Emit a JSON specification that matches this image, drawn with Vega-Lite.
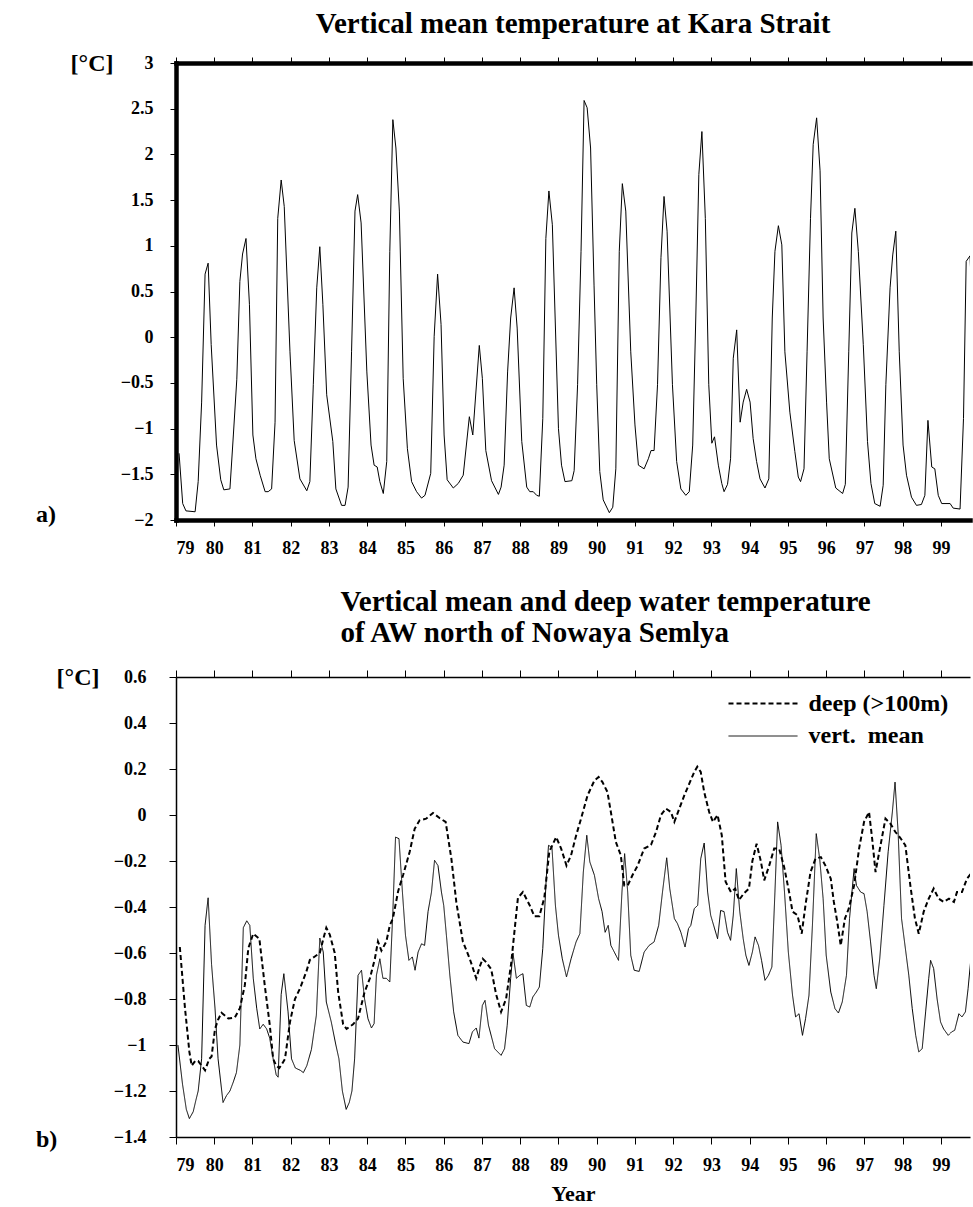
{
  "$schema": "https://vega.github.io/schema/vega-lite/v6.json",
  "background": "white",
  "padding": {"left": 35, "top": 10, "right": 0, "bottom": 0},
  "config": {
    "view": {"stroke": null},
    "font": "Liberation Serif",
    "axis": {"labelFont": "Liberation Serif", "labelFontWeight": "bold", "labelColor": "black", "titleFont": "Liberation Serif", "titleFontWeight": "bold", "titleColor": "black", "domainColor": "black", "tickColor": "black", "grid": false, "labelFontSize": 18},
    "title": {"font": "Liberation Serif", "fontWeight": "bold", "color": "black", "fontSize": 29},
    "concat": {"spacing": 31}
  },
  "resolve": {"legend": {"strokeDash": "independent", "strokeWidth": "independent"}},
  "datasets": {
    "kara": [
      {"year":79.08,"temp":-1.27},{"year":79.175,"temp":-1.82},{"year":79.26,"temp":-1.9},{"year":79.5,"temp":-1.91},{"year":79.58,"temp":-1.58},{"year":79.67,"temp":-0.71},{"year":79.76,"temp":0.69},{"year":79.84,"temp":0.81},{"year":79.92,"temp":-0.08},
      {"year":80.06,"temp":-1.18},{"year":80.17,"temp":-1.56},{"year":80.25,"temp":-1.67},{"year":80.41,"temp":-1.66},{"year":80.5,"temp":-1.07},{"year":80.59,"temp":-0.46},{"year":80.67,"temp":0.61},{"year":80.74,"temp":0.91},{"year":80.83,"temp":1.08},{"year":80.92,"temp":0.36},
      {"year":81.01,"temp":-1.07},{"year":81.09,"temp":-1.33},{"year":81.2,"temp":-1.51},{"year":81.33,"temp":-1.69},{"year":81.41,"temp":-1.69},{"year":81.5,"temp":-1.66},{"year":81.59,"temp":-0.93},{"year":81.66,"temp":1.3},{"year":81.75,"temp":1.72},{"year":81.83,"temp":1.43},{"year":81.98,"temp":-0.16},
      {"year":82.09,"temp":-1.13},{"year":82.24,"temp":-1.55},{"year":82.42,"temp":-1.68},{"year":82.5,"temp":-1.58},{"year":82.59,"temp":-0.52},{"year":82.68,"temp":0.54},{"year":82.76,"temp":0.99},{"year":82.84,"temp":0.36},{"year":82.94,"temp":-0.63},
      {"year":83.1,"temp":-1.14},{"year":83.18,"temp":-1.66},{"year":83.33,"temp":-1.84},{"year":83.42,"temp":-1.84},{"year":83.5,"temp":-1.64},{"year":83.59,"temp":-0.16},{"year":83.68,"temp":1.38},{"year":83.75,"temp":1.56},{"year":83.84,"temp":1.25},{"year":83.99,"temp":-0.38},
      {"year":84.1,"temp":-1.18},{"year":84.18,"temp":-1.4},{"year":84.26,"temp":-1.42},{"year":84.33,"temp":-1.58},{"year":84.42,"temp":-1.71},{"year":84.51,"temp":-1.36},{"year":84.59,"temp":0.94},{"year":84.67,"temp":2.38},{"year":84.75,"temp":2.07},{"year":84.84,"temp":1.38},{"year":84.94,"temp":-0.45},
      {"year":85.05,"temp":-1.22},{"year":85.16,"temp":-1.58},{"year":85.29,"temp":-1.69},{"year":85.42,"temp":-1.76},{"year":85.51,"temp":-1.73},{"year":85.66,"temp":-1.49},{"year":85.75,"temp":0.01},{"year":85.84,"temp":0.69},{"year":85.93,"temp":0.14},
      {"year":86.01,"temp":-1.07},{"year":86.09,"temp":-1.56},{"year":86.25,"temp":-1.65},{"year":86.38,"temp":-1.6},{"year":86.51,"temp":-1.51},{"year":86.67,"temp":-0.87},{"year":86.76,"temp":-1.07},{"year":86.93,"temp":-0.09},
      {"year":87.01,"temp":-0.45},{"year":87.1,"temp":-1.24},{"year":87.25,"temp":-1.57},{"year":87.43,"temp":-1.72},{"year":87.5,"temp":-1.64},{"year":87.58,"temp":-1.4},{"year":87.67,"temp":-0.38},{"year":87.75,"temp":0.21},{"year":87.84,"temp":0.54},{"year":87.92,"temp":0.1},
      {"year":88.04,"temp":-1.14},{"year":88.17,"temp":-1.64},{"year":88.25,"temp":-1.69},{"year":88.34,"temp":-1.69},{"year":88.43,"temp":-1.73},{"year":88.5,"temp":-1.74},{"year":88.59,"temp":-0.89},{"year":88.67,"temp":1.08},{"year":88.75,"temp":1.6},{"year":88.84,"temp":1.23},
      {"year":89.0,"temp":-1.0},{"year":89.08,"temp":-1.4},{"year":89.17,"temp":-1.58},{"year":89.35,"temp":-1.57},{"year":89.41,"temp":-1.46},{"year":89.5,"temp":-0.52},{"year":89.59,"temp":0.94},{"year":89.67,"temp":2.59},{"year":89.75,"temp":2.51},{"year":89.84,"temp":2.07},{"year":89.93,"temp":0.57},
      {"year":90.0,"temp":-0.52},{"year":90.08,"temp":-1.47},{"year":90.17,"temp":-1.78},{"year":90.33,"temp":-1.92},{"year":90.42,"temp":-1.86},{"year":90.5,"temp":-1.44},{"year":90.59,"temp":0.94},{"year":90.67,"temp":1.68},{"year":90.76,"temp":1.38},{"year":90.89,"temp":-0.16},
      {"year":91.0,"temp":-0.96},{"year":91.09,"temp":-1.4},{"year":91.24,"temp":-1.44},{"year":91.35,"temp":-1.33},{"year":91.42,"temp":-1.24},{"year":91.5,"temp":-1.24},{"year":91.59,"temp":-0.52},{"year":91.68,"temp":0.87},{"year":91.76,"temp":1.54},{"year":91.84,"temp":1.16},{"year":91.98,"temp":-0.52},
      {"year":92.09,"temp":-1.36},{"year":92.2,"temp":-1.66},{"year":92.33,"temp":-1.73},{"year":92.42,"temp":-1.69},{"year":92.51,"temp":-1.18},{"year":92.59,"temp":0.21},{"year":92.67,"temp":1.78},{"year":92.75,"temp":2.25},{"year":92.84,"temp":1.3},{"year":92.93,"temp":-0.52},
      {"year":93.01,"temp":-1.16},{"year":93.08,"temp":-1.09},{"year":93.18,"temp":-1.4},{"year":93.27,"temp":-1.6},{"year":93.33,"temp":-1.69},{"year":93.42,"temp":-1.61},{"year":93.5,"temp":-1.33},{"year":93.57,"temp":-0.23},{"year":93.66,"temp":0.08},{"year":93.75,"temp":-0.93},{"year":93.83,"temp":-0.71},{"year":93.92,"temp":-0.57},
      {"year":94.01,"temp":-0.71},{"year":94.09,"temp":-1.11},{"year":94.18,"temp":-1.36},{"year":94.27,"temp":-1.55},{"year":94.4,"temp":-1.65},{"year":94.5,"temp":-1.55},{"year":94.59,"temp":0.21},{"year":94.66,"temp":0.94},{"year":94.75,"temp":1.22},{"year":94.84,"temp":1.01},{"year":94.92,"temp":-0.16},
      {"year":95.05,"temp":-0.82},{"year":95.18,"temp":-1.25},{"year":95.27,"temp":-1.53},{"year":95.33,"temp":-1.58},{"year":95.42,"temp":-1.44},{"year":95.5,"temp":-0.16},{"year":95.59,"temp":1.3},{"year":95.66,"temp":2.11},{"year":95.75,"temp":2.4},{"year":95.84,"temp":1.82},{"year":95.92,"temp":0.21},
      {"year":96.01,"temp":-0.71},{"year":96.08,"temp":-1.33},{"year":96.25,"temp":-1.65},{"year":96.43,"temp":-1.71},{"year":96.5,"temp":-1.61},{"year":96.59,"temp":-0.16},{"year":96.67,"temp":1.14},{"year":96.75,"temp":1.41},{"year":96.84,"temp":0.94},{"year":96.97,"temp":-0.08},
      {"year":97.08,"temp":-1.14},{"year":97.17,"temp":-1.6},{"year":97.27,"temp":-1.82},{"year":97.41,"temp":-1.85},{"year":97.49,"temp":-1.62},{"year":97.56,"temp":-0.52},{"year":97.67,"temp":0.54},{"year":97.74,"temp":0.9},{"year":97.82,"temp":1.16},{"year":97.91,"temp":-0.16},
      {"year":98.01,"temp":-1.18},{"year":98.1,"temp":-1.51},{"year":98.23,"temp":-1.75},{"year":98.36,"temp":-1.84},{"year":98.49,"temp":-1.83},{"year":98.58,"temp":-1.73},{"year":98.66,"temp":-0.91},{"year":98.76,"temp":-1.42},{"year":98.84,"temp":-1.44},{"year":98.93,"temp":-1.73},
      {"year":99.02,"temp":-1.82},{"year":99.24,"temp":-1.82},{"year":99.32,"temp":-1.87},{"year":99.5,"temp":-1.88},{"year":99.59,"temp":-0.89},{"year":99.66,"temp":0.83},{"year":99.76,"temp":0.89},{"year":99.84,"temp":0.13}
    ],
    "nz": [
      {"year":79.05,"temp":-1.0,"series":"vert. \u00a0mean"},{"year":79.17,"temp":-1.17,"series":"vert. \u00a0mean"},{"year":79.27,"temp":-1.28,"series":"vert. \u00a0mean"},{"year":79.35,"temp":-1.32,"series":"vert. \u00a0mean"},{"year":79.45,"temp":-1.29,"series":"vert. \u00a0mean"},{"year":79.52,"temp":-1.24,"series":"vert. \u00a0mean"},{"year":79.58,"temp":-1.2,"series":"vert. \u00a0mean"},{"year":79.67,"temp":-1.06,"series":"vert. \u00a0mean"},{"year":79.76,"temp":-0.48,"series":"vert. \u00a0mean"},{"year":79.84,"temp":-0.36,"series":"vert. \u00a0mean"},{"year":79.93,"temp":-0.65,"series":"vert. \u00a0mean"},
      {"year":80.02,"temp":-0.84,"series":"vert. \u00a0mean"},{"year":80.1,"temp":-1.06,"series":"vert. \u00a0mean"},{"year":80.23,"temp":-1.25,"series":"vert. \u00a0mean"},{"year":80.32,"temp":-1.22,"series":"vert. \u00a0mean"},{"year":80.41,"temp":-1.2,"series":"vert. \u00a0mean"},{"year":80.5,"temp":-1.16,"series":"vert. \u00a0mean"},{"year":80.58,"temp":-1.12,"series":"vert. \u00a0mean"},{"year":80.67,"temp":-1.0,"series":"vert. \u00a0mean"},{"year":80.76,"temp":-0.49,"series":"vert. \u00a0mean"},{"year":80.85,"temp":-0.46,"series":"vert. \u00a0mean"},{"year":80.93,"temp":-0.48,"series":"vert. \u00a0mean"},
      {"year":81.02,"temp":-0.71,"series":"vert. \u00a0mean"},{"year":81.11,"temp":-0.84,"series":"vert. \u00a0mean"},{"year":81.19,"temp":-0.93,"series":"vert. \u00a0mean"},{"year":81.28,"temp":-0.91,"series":"vert. \u00a0mean"},{"year":81.37,"temp":-0.93,"series":"vert. \u00a0mean"},{"year":81.45,"temp":-0.97,"series":"vert. \u00a0mean"},{"year":81.54,"temp":-1.06,"series":"vert. \u00a0mean"},{"year":81.62,"temp":-1.13,"series":"vert. \u00a0mean"},{"year":81.67,"temp":-1.14,"series":"vert. \u00a0mean"},{"year":81.75,"temp":-0.78,"series":"vert. \u00a0mean"},{"year":81.82,"temp":-0.69,"series":"vert. \u00a0mean"},{"year":81.93,"temp":-0.856,"series":"vert. \u00a0mean"},
      {"year":82.02,"temp":-1.06,"series":"vert. \u00a0mean"},{"year":82.12,"temp":-1.1,"series":"vert. \u00a0mean"},{"year":82.25,"temp":-1.11,"series":"vert. \u00a0mean"},{"year":82.33,"temp":-1.12,"series":"vert. \u00a0mean"},{"year":82.42,"temp":-1.09,"series":"vert. \u00a0mean"},{"year":82.54,"temp":-1.02,"series":"vert. \u00a0mean"},{"year":82.67,"temp":-0.87,"series":"vert. \u00a0mean"},{"year":82.76,"temp":-0.535,"series":"vert. \u00a0mean"},{"year":82.85,"temp":-0.596,"series":"vert. \u00a0mean"},{"year":82.93,"temp":-0.813,"series":"vert. \u00a0mean"},
      {"year":83.06,"temp":-0.9,"series":"vert. \u00a0mean"},{"year":83.18,"temp":-1.0,"series":"vert. \u00a0mean"},{"year":83.26,"temp":-1.06,"series":"vert. \u00a0mean"},{"year":83.35,"temp":-1.2,"series":"vert. \u00a0mean"},{"year":83.45,"temp":-1.28,"series":"vert. \u00a0mean"},{"year":83.53,"temp":-1.25,"series":"vert. \u00a0mean"},{"year":83.6,"temp":-1.2,"series":"vert. \u00a0mean"},{"year":83.67,"temp":-1.06,"series":"vert. \u00a0mean"},{"year":83.76,"temp":-0.697,"series":"vert. \u00a0mean"},{"year":83.85,"temp":-0.675,"series":"vert. \u00a0mean"},{"year":83.93,"temp":-0.8,"series":"vert. \u00a0mean"},
      {"year":84.02,"temp":-0.886,"series":"vert. \u00a0mean"},{"year":84.11,"temp":-0.926,"series":"vert. \u00a0mean"},{"year":84.18,"temp":-0.907,"series":"vert. \u00a0mean"},{"year":84.24,"temp":-0.697,"series":"vert. \u00a0mean"},{"year":84.33,"temp":-0.625,"series":"vert. \u00a0mean"},{"year":84.41,"temp":-0.71,"series":"vert. \u00a0mean"},{"year":84.5,"temp":-0.71,"series":"vert. \u00a0mean"},{"year":84.59,"temp":-0.726,"series":"vert. \u00a0mean"},{"year":84.67,"temp":-0.42,"series":"vert. \u00a0mean"},{"year":84.74,"temp":-0.096,"series":"vert. \u00a0mean"},{"year":84.83,"temp":-0.103,"series":"vert. \u00a0mean"},{"year":84.92,"temp":-0.335,"series":"vert. \u00a0mean"},
      {"year":85.0,"temp":-0.523,"series":"vert. \u00a0mean"},{"year":85.09,"temp":-0.632,"series":"vert. \u00a0mean"},{"year":85.18,"temp":-0.617,"series":"vert. \u00a0mean"},{"year":85.25,"temp":-0.675,"series":"vert. \u00a0mean"},{"year":85.33,"temp":-0.596,"series":"vert. \u00a0mean"},{"year":85.42,"temp":-0.56,"series":"vert. \u00a0mean"},{"year":85.5,"temp":-0.567,"series":"vert. \u00a0mean"},{"year":85.59,"temp":-0.42,"series":"vert. \u00a0mean"},{"year":85.68,"temp":-0.335,"series":"vert. \u00a0mean"},{"year":85.76,"temp":-0.197,"series":"vert. \u00a0mean"},{"year":85.85,"temp":-0.22,"series":"vert. \u00a0mean"},{"year":85.94,"temp":-0.335,"series":"vert. \u00a0mean"},
      {"year":86.0,"temp":-0.393,"series":"vert. \u00a0mean"},{"year":86.07,"temp":-0.523,"series":"vert. \u00a0mean"},{"year":86.16,"temp":-0.697,"series":"vert. \u00a0mean"},{"year":86.26,"temp":-0.856,"series":"vert. \u00a0mean"},{"year":86.37,"temp":-0.958,"series":"vert. \u00a0mean"},{"year":86.5,"temp":-0.987,"series":"vert. \u00a0mean"},{"year":86.66,"temp":-0.994,"series":"vert. \u00a0mean"},{"year":86.75,"temp":-0.943,"series":"vert. \u00a0mean"},{"year":86.85,"temp":-0.926,"series":"vert. \u00a0mean"},{"year":86.92,"temp":-0.97,"series":"vert. \u00a0mean"},
      {"year":87.01,"temp":-0.828,"series":"vert. \u00a0mean"},{"year":87.08,"temp":-0.806,"series":"vert. \u00a0mean"},{"year":87.17,"temp":-0.914,"series":"vert. \u00a0mean"},{"year":87.33,"temp":-1.016,"series":"vert. \u00a0mean"},{"year":87.5,"temp":-1.045,"series":"vert. \u00a0mean"},{"year":87.59,"temp":-1.016,"series":"vert. \u00a0mean"},{"year":87.66,"temp":-0.914,"series":"vert. \u00a0mean"},{"year":87.75,"temp":-0.71,"series":"vert. \u00a0mean"},{"year":87.81,"temp":-0.6,"series":"vert. \u00a0mean"},{"year":87.9,"temp":-0.71,"series":"vert. \u00a0mean"},{"year":87.99,"temp":-0.697,"series":"vert. \u00a0mean"},
      {"year":88.07,"temp":-0.69,"series":"vert. \u00a0mean"},{"year":88.16,"temp":-0.828,"series":"vert. \u00a0mean"},{"year":88.25,"temp":-0.835,"series":"vert. \u00a0mean"},{"year":88.33,"temp":-0.791,"series":"vert. \u00a0mean"},{"year":88.42,"temp":-0.77,"series":"vert. \u00a0mean"},{"year":88.5,"temp":-0.748,"series":"vert. \u00a0mean"},{"year":88.59,"temp":-0.58,"series":"vert. \u00a0mean"},{"year":88.68,"temp":-0.277,"series":"vert. \u00a0mean"},{"year":88.74,"temp":-0.132,"series":"vert. \u00a0mean"},{"year":88.83,"temp":-0.14,"series":"vert. \u00a0mean"},{"year":88.92,"temp":-0.393,"series":"vert. \u00a0mean"},
      {"year":89.0,"temp":-0.523,"series":"vert. \u00a0mean"},{"year":89.1,"temp":-0.625,"series":"vert. \u00a0mean"},{"year":89.21,"temp":-0.704,"series":"vert. \u00a0mean"},{"year":89.33,"temp":-0.625,"series":"vert. \u00a0mean"},{"year":89.46,"temp":-0.552,"series":"vert. \u00a0mean"},{"year":89.56,"temp":-0.516,"series":"vert. \u00a0mean"},{"year":89.65,"temp":-0.248,"series":"vert. \u00a0mean"},{"year":89.74,"temp":-0.088,"series":"vert. \u00a0mean"},{"year":89.82,"temp":-0.204,"series":"vert. \u00a0mean"},{"year":89.94,"temp":-0.262,"series":"vert. \u00a0mean"},
      {"year":90.05,"temp":-0.364,"series":"vert. \u00a0mean"},{"year":90.14,"temp":-0.42,"series":"vert. \u00a0mean"},{"year":90.22,"temp":-0.51,"series":"vert. \u00a0mean"},{"year":90.3,"temp":-0.48,"series":"vert. \u00a0mean"},{"year":90.37,"temp":-0.567,"series":"vert. \u00a0mean"},{"year":90.46,"temp":-0.596,"series":"vert. \u00a0mean"},{"year":90.57,"temp":-0.632,"series":"vert. \u00a0mean"},{"year":90.66,"temp":-0.335,"series":"vert. \u00a0mean"},{"year":90.73,"temp":-0.168,"series":"vert. \u00a0mean"},{"year":90.81,"temp":-0.335,"series":"vert. \u00a0mean"},{"year":90.89,"temp":-0.61,"series":"vert. \u00a0mean"},{"year":90.98,"temp":-0.675,"series":"vert. \u00a0mean"},
      {"year":91.11,"temp":-0.68,"series":"vert. \u00a0mean"},{"year":91.24,"temp":-0.596,"series":"vert. \u00a0mean"},{"year":91.37,"temp":-0.567,"series":"vert. \u00a0mean"},{"year":91.5,"temp":-0.552,"series":"vert. \u00a0mean"},{"year":91.62,"temp":-0.48,"series":"vert. \u00a0mean"},{"year":91.72,"temp":-0.335,"series":"vert. \u00a0mean"},{"year":91.83,"temp":-0.186,"series":"vert. \u00a0mean"},{"year":91.91,"temp":-0.32,"series":"vert. \u00a0mean"},
      {"year":92.03,"temp":-0.45,"series":"vert. \u00a0mean"},{"year":92.11,"temp":-0.472,"series":"vert. \u00a0mean"},{"year":92.2,"temp":-0.51,"series":"vert. \u00a0mean"},{"year":92.31,"temp":-0.574,"series":"vert. \u00a0mean"},{"year":92.4,"temp":-0.494,"series":"vert. \u00a0mean"},{"year":92.46,"temp":-0.48,"series":"vert. \u00a0mean"},{"year":92.55,"temp":-0.407,"series":"vert. \u00a0mean"},{"year":92.64,"temp":-0.393,"series":"vert. \u00a0mean"},{"year":92.72,"temp":-0.19,"series":"vert. \u00a0mean"},{"year":92.81,"temp":-0.122,"series":"vert. \u00a0mean"},{"year":92.9,"temp":-0.335,"series":"vert. \u00a0mean"},{"year":92.98,"temp":-0.436,"series":"vert. \u00a0mean"},
      {"year":93.07,"temp":-0.487,"series":"vert. \u00a0mean"},{"year":93.16,"temp":-0.538,"series":"vert. \u00a0mean"},{"year":93.24,"temp":-0.415,"series":"vert. \u00a0mean"},{"year":93.33,"temp":-0.42,"series":"vert. \u00a0mean"},{"year":93.42,"temp":-0.51,"series":"vert. \u00a0mean"},{"year":93.5,"temp":-0.545,"series":"vert. \u00a0mean"},{"year":93.57,"temp":-0.436,"series":"vert. \u00a0mean"},{"year":93.65,"temp":-0.233,"series":"vert. \u00a0mean"},{"year":93.74,"temp":-0.42,"series":"vert. \u00a0mean"},{"year":93.83,"temp":-0.538,"series":"vert. \u00a0mean"},{"year":93.9,"temp":-0.61,"series":"vert. \u00a0mean"},{"year":93.98,"temp":-0.654,"series":"vert. \u00a0mean"},
      {"year":94.07,"temp":-0.596,"series":"vert. \u00a0mean"},{"year":94.14,"temp":-0.53,"series":"vert. \u00a0mean"},{"year":94.23,"temp":-0.567,"series":"vert. \u00a0mean"},{"year":94.31,"temp":-0.632,"series":"vert. \u00a0mean"},{"year":94.4,"temp":-0.719,"series":"vert. \u00a0mean"},{"year":94.49,"temp":-0.697,"series":"vert. \u00a0mean"},{"year":94.58,"temp":-0.661,"series":"vert. \u00a0mean"},{"year":94.66,"temp":-0.335,"series":"vert. \u00a0mean"},{"year":94.73,"temp":-0.03,"series":"vert. \u00a0mean"},{"year":94.82,"temp":-0.132,"series":"vert. \u00a0mean"},{"year":94.91,"temp":-0.335,"series":"vert. \u00a0mean"},
      {"year":95.01,"temp":-0.596,"series":"vert. \u00a0mean"},{"year":95.12,"temp":-0.784,"series":"vert. \u00a0mean"},{"year":95.2,"temp":-0.878,"series":"vert. \u00a0mean"},{"year":95.29,"temp":-0.864,"series":"vert. \u00a0mean"},{"year":95.38,"temp":-0.958,"series":"vert. \u00a0mean"},{"year":95.46,"temp":-0.886,"series":"vert. \u00a0mean"},{"year":95.55,"temp":-0.784,"series":"vert. \u00a0mean"},{"year":95.64,"temp":-0.48,"series":"vert. \u00a0mean"},{"year":95.74,"temp":-0.081,"series":"vert. \u00a0mean"},{"year":95.83,"temp":-0.19,"series":"vert. \u00a0mean"},{"year":95.92,"temp":-0.364,"series":"vert. \u00a0mean"},
      {"year":96.0,"temp":-0.61,"series":"vert. \u00a0mean"},{"year":96.12,"temp":-0.77,"series":"vert. \u00a0mean"},{"year":96.23,"temp":-0.842,"series":"vert. \u00a0mean"},{"year":96.32,"temp":-0.861,"series":"vert. \u00a0mean"},{"year":96.42,"temp":-0.813,"series":"vert. \u00a0mean"},{"year":96.53,"temp":-0.697,"series":"vert. \u00a0mean"},{"year":96.61,"temp":-0.45,"series":"vert. \u00a0mean"},{"year":96.73,"temp":-0.233,"series":"vert. \u00a0mean"},{"year":96.79,"temp":-0.306,"series":"vert. \u00a0mean"},{"year":96.9,"temp":-0.335,"series":"vert. \u00a0mean"},{"year":96.99,"temp":-0.342,"series":"vert. \u00a0mean"},
      {"year":97.07,"temp":-0.42,"series":"vert. \u00a0mean"},{"year":97.16,"temp":-0.552,"series":"vert. \u00a0mean"},{"year":97.25,"temp":-0.697,"series":"vert. \u00a0mean"},{"year":97.31,"temp":-0.755,"series":"vert. \u00a0mean"},{"year":97.4,"temp":-0.625,"series":"vert. \u00a0mean"},{"year":97.51,"temp":-0.393,"series":"vert. \u00a0mean"},{"year":97.62,"temp":-0.16,"series":"vert. \u00a0mean"},{"year":97.73,"temp":0.013,"series":"vert. \u00a0mean"},{"year":97.8,"temp":0.143,"series":"vert. \u00a0mean"},{"year":97.88,"temp":-0.074,"series":"vert. \u00a0mean"},{"year":97.97,"temp":-0.45,"series":"vert. \u00a0mean"},
      {"year":98.07,"temp":-0.58,"series":"vert. \u00a0mean"},{"year":98.16,"temp":-0.697,"series":"vert. \u00a0mean"},{"year":98.25,"temp":-0.842,"series":"vert. \u00a0mean"},{"year":98.34,"temp":-0.958,"series":"vert. \u00a0mean"},{"year":98.42,"temp":-1.03,"series":"vert. \u00a0mean"},{"year":98.51,"temp":-1.016,"series":"vert. \u00a0mean"},{"year":98.6,"temp":-0.856,"series":"vert. \u00a0mean"},{"year":98.68,"temp":-0.712,"series":"vert. \u00a0mean"},{"year":98.73,"temp":-0.632,"series":"vert. \u00a0mean"},{"year":98.81,"temp":-0.668,"series":"vert. \u00a0mean"},{"year":98.9,"temp":-0.8,"series":"vert. \u00a0mean"},{"year":98.99,"temp":-0.9,"series":"vert. \u00a0mean"},
      {"year":99.07,"temp":-0.93,"series":"vert. \u00a0mean"},{"year":99.19,"temp":-0.958,"series":"vert. \u00a0mean"},{"year":99.28,"temp":-0.943,"series":"vert. \u00a0mean"},{"year":99.36,"temp":-0.936,"series":"vert. \u00a0mean"},{"year":99.47,"temp":-0.864,"series":"vert. \u00a0mean"},{"year":99.55,"temp":-0.878,"series":"vert. \u00a0mean"},{"year":99.64,"temp":-0.856,"series":"vert. \u00a0mean"},{"year":99.71,"temp":-0.755,"series":"vert. \u00a0mean"},{"year":99.8,"temp":-0.596,"series":"vert. \u00a0mean"},{"year":99.89,"temp":-0.54,"series":"vert. \u00a0mean"},

      {"year":79.1,"temp":-0.574,"series":"deep (>100m)"},{"year":79.235,"temp":-0.84,"series":"deep (>100m)"},{"year":79.35,"temp":-1.03,"series":"deep (>100m)"},{"year":79.41,"temp":-1.09,"series":"deep (>100m)"},{"year":79.5,"temp":-1.07,"series":"deep (>100m)"},{"year":79.58,"temp":-1.07,"series":"deep (>100m)"},{"year":79.67,"temp":-1.09,"series":"deep (>100m)"},{"year":79.76,"temp":-1.11,"series":"deep (>100m)"},{"year":79.87,"temp":-1.06,"series":"deep (>100m)"},{"year":79.93,"temp":-1.05,"series":"deep (>100m)"},
      {"year":80.02,"temp":-0.93,"series":"deep (>100m)"},{"year":80.1,"temp":-0.89,"series":"deep (>100m)"},{"year":80.19,"temp":-0.86,"series":"deep (>100m)"},{"year":80.37,"temp":-0.885,"series":"deep (>100m)"},{"year":80.54,"temp":-0.88,"series":"deep (>100m)"},{"year":80.67,"temp":-0.84,"series":"deep (>100m)"},{"year":80.8,"temp":-0.74,"series":"deep (>100m)"},{"year":80.89,"temp":-0.58,"series":"deep (>100m)"},
      {"year":81.02,"temp":-0.516,"series":"deep (>100m)"},{"year":81.18,"temp":-0.538,"series":"deep (>100m)"},{"year":81.32,"temp":-0.74,"series":"deep (>100m)"},{"year":81.45,"temp":-0.91,"series":"deep (>100m)"},{"year":81.54,"temp":-1.06,"series":"deep (>100m)"},{"year":81.62,"temp":-1.09,"series":"deep (>100m)"},{"year":81.7,"temp":-1.1,"series":"deep (>100m)"},{"year":81.78,"temp":-1.08,"series":"deep (>100m)"},{"year":81.85,"temp":-1.06,"series":"deep (>100m)"},{"year":81.98,"temp":-0.9,"series":"deep (>100m)"},
      {"year":82.11,"temp":-0.8,"series":"deep (>100m)"},{"year":82.24,"temp":-0.755,"series":"deep (>100m)"},{"year":82.41,"temp":-0.68,"series":"deep (>100m)"},{"year":82.5,"temp":-0.63,"series":"deep (>100m)"},{"year":82.63,"temp":-0.615,"series":"deep (>100m)"},{"year":82.76,"temp":-0.6,"series":"deep (>100m)"},{"year":82.85,"temp":-0.54,"series":"deep (>100m)"},{"year":82.93,"temp":-0.49,"series":"deep (>100m)"},
      {"year":83.02,"temp":-0.52,"series":"deep (>100m)"},{"year":83.15,"temp":-0.6,"series":"deep (>100m)"},{"year":83.24,"temp":-0.77,"series":"deep (>100m)"},{"year":83.37,"temp":-0.91,"series":"deep (>100m)"},{"year":83.46,"temp":-0.93,"series":"deep (>100m)"},{"year":83.63,"temp":-0.91,"series":"deep (>100m)"},{"year":83.76,"temp":-0.885,"series":"deep (>100m)"},{"year":83.93,"temp":-0.77,"series":"deep (>100m)"},
      {"year":84.07,"temp":-0.71,"series":"deep (>100m)"},{"year":84.2,"temp":-0.625,"series":"deep (>100m)"},{"year":84.28,"temp":-0.55,"series":"deep (>100m)"},{"year":84.37,"temp":-0.59,"series":"deep (>100m)"},{"year":84.5,"temp":-0.55,"series":"deep (>100m)"},{"year":84.59,"temp":-0.48,"series":"deep (>100m)"},{"year":84.67,"temp":-0.45,"series":"deep (>100m)"},{"year":84.81,"temp":-0.33,"series":"deep (>100m)"},{"year":84.94,"temp":-0.26,"series":"deep (>100m)"},
      {"year":85.11,"temp":-0.16,"series":"deep (>100m)"},{"year":85.24,"temp":-0.06,"series":"deep (>100m)"},{"year":85.37,"temp":-0.023,"series":"deep (>100m)"},{"year":85.54,"temp":-0.016,"series":"deep (>100m)"},{"year":85.72,"temp":0.009,"series":"deep (>100m)"},{"year":85.89,"temp":-0.013,"series":"deep (>100m)"},
      {"year":86.05,"temp":-0.03,"series":"deep (>100m)"},{"year":86.2,"temp":-0.19,"series":"deep (>100m)"},{"year":86.33,"temp":-0.38,"series":"deep (>100m)"},{"year":86.5,"temp":-0.55,"series":"deep (>100m)"},{"year":86.68,"temp":-0.625,"series":"deep (>100m)"},{"year":86.85,"temp":-0.71,"series":"deep (>100m)"},{"year":86.94,"temp":-0.66,"series":"deep (>100m)"},
      {"year":87.02,"temp":-0.625,"series":"deep (>100m)"},{"year":87.11,"temp":-0.64,"series":"deep (>100m)"},{"year":87.24,"temp":-0.67,"series":"deep (>100m)"},{"year":87.37,"temp":-0.78,"series":"deep (>100m)"},{"year":87.5,"temp":-0.856,"series":"deep (>100m)"},{"year":87.63,"temp":-0.8,"series":"deep (>100m)"},{"year":87.76,"temp":-0.65,"series":"deep (>100m)"},{"year":87.94,"temp":-0.36,"series":"deep (>100m)"},
      {"year":88.07,"temp":-0.335,"series":"deep (>100m)"},{"year":88.24,"temp":-0.39,"series":"deep (>100m)"},{"year":88.37,"temp":-0.44,"series":"deep (>100m)"},{"year":88.5,"temp":-0.44,"series":"deep (>100m)"},{"year":88.63,"temp":-0.36,"series":"deep (>100m)"},{"year":88.76,"temp":-0.16,"series":"deep (>100m)"},{"year":88.94,"temp":-0.096,"series":"deep (>100m)"},
      {"year":89.07,"temp":-0.146,"series":"deep (>100m)"},{"year":89.21,"temp":-0.22,"series":"deep (>100m)"},{"year":89.33,"temp":-0.175,"series":"deep (>100m)"},{"year":89.46,"temp":-0.09,"series":"deep (>100m)"},{"year":89.59,"temp":-0.016,"series":"deep (>100m)"},{"year":89.76,"temp":0.085,"series":"deep (>100m)"},{"year":89.94,"temp":0.15,"series":"deep (>100m)"},
      {"year":90.05,"temp":0.165,"series":"deep (>100m)"},{"year":90.15,"temp":0.143,"series":"deep (>100m)"},{"year":90.28,"temp":0.1,"series":"deep (>100m)"},{"year":90.37,"temp":0.013,"series":"deep (>100m)"},{"year":90.5,"temp":-0.117,"series":"deep (>100m)"},{"year":90.63,"temp":-0.175,"series":"deep (>100m)"},{"year":90.72,"temp":-0.306,"series":"deep (>100m)"},{"year":90.81,"temp":-0.306,"series":"deep (>100m)"},{"year":90.94,"temp":-0.26,"series":"deep (>100m)"},
      {"year":91.07,"temp":-0.22,"series":"deep (>100m)"},{"year":91.24,"temp":-0.146,"series":"deep (>100m)"},{"year":91.42,"temp":-0.13,"series":"deep (>100m)"},{"year":91.55,"temp":-0.074,"series":"deep (>100m)"},{"year":91.68,"temp":0.0,"series":"deep (>100m)"},{"year":91.81,"temp":0.028,"series":"deep (>100m)"},{"year":91.94,"temp":0.013,"series":"deep (>100m)"},
      {"year":92.03,"temp":-0.03,"series":"deep (>100m)"},{"year":92.16,"temp":0.028,"series":"deep (>100m)"},{"year":92.29,"temp":0.085,"series":"deep (>100m)"},{"year":92.42,"temp":0.136,"series":"deep (>100m)"},{"year":92.55,"temp":0.187,"series":"deep (>100m)"},{"year":92.63,"temp":0.21,"series":"deep (>100m)"},{"year":92.72,"temp":0.187,"series":"deep (>100m)"},{"year":92.81,"temp":0.1,"series":"deep (>100m)"},{"year":92.94,"temp":0.013,"series":"deep (>100m)"},
      {"year":93.04,"temp":-0.03,"series":"deep (>100m)"},{"year":93.16,"temp":0.0,"series":"deep (>100m)"},{"year":93.27,"temp":-0.088,"series":"deep (>100m)"},{"year":93.37,"temp":-0.29,"series":"deep (>100m)"},{"year":93.51,"temp":-0.335,"series":"deep (>100m)"},{"year":93.62,"temp":-0.32,"series":"deep (>100m)"},{"year":93.72,"temp":-0.37,"series":"deep (>100m)"},{"year":93.85,"temp":-0.34,"series":"deep (>100m)"},{"year":93.98,"temp":-0.32,"series":"deep (>100m)"},
      {"year":94.07,"temp":-0.2,"series":"deep (>100m)"},{"year":94.18,"temp":-0.125,"series":"deep (>100m)"},{"year":94.29,"temp":-0.2,"series":"deep (>100m)"},{"year":94.38,"temp":-0.284,"series":"deep (>100m)"},{"year":94.51,"temp":-0.22,"series":"deep (>100m)"},{"year":94.64,"temp":-0.146,"series":"deep (>100m)"},{"year":94.77,"temp":-0.146,"series":"deep (>100m)"},{"year":94.9,"temp":-0.226,"series":"deep (>100m)"},
      {"year":95.03,"temp":-0.335,"series":"deep (>100m)"},{"year":95.12,"temp":-0.42,"series":"deep (>100m)"},{"year":95.25,"temp":-0.436,"series":"deep (>100m)"},{"year":95.36,"temp":-0.516,"series":"deep (>100m)"},{"year":95.46,"temp":-0.39,"series":"deep (>100m)"},{"year":95.59,"temp":-0.248,"series":"deep (>100m)"},{"year":95.72,"temp":-0.19,"series":"deep (>100m)"},{"year":95.86,"temp":-0.183,"series":"deep (>100m)"},{"year":95.98,"temp":-0.22,"series":"deep (>100m)"},
      {"year":96.12,"temp":-0.277,"series":"deep (>100m)"},{"year":96.2,"temp":-0.378,"series":"deep (>100m)"},{"year":96.29,"temp":-0.465,"series":"deep (>100m)"},{"year":96.38,"temp":-0.567,"series":"deep (>100m)"},{"year":96.49,"temp":-0.45,"series":"deep (>100m)"},{"year":96.59,"temp":-0.407,"series":"deep (>100m)"},{"year":96.73,"temp":-0.306,"series":"deep (>100m)"},{"year":96.86,"temp":-0.146,"series":"deep (>100m)"},{"year":96.99,"temp":-0.03,"series":"deep (>100m)"},
      {"year":97.12,"temp":0.013,"series":"deep (>100m)"},{"year":97.2,"temp":-0.1,"series":"deep (>100m)"},{"year":97.29,"temp":-0.248,"series":"deep (>100m)"},{"year":97.42,"temp":-0.132,"series":"deep (>100m)"},{"year":97.55,"temp":-0.016,"series":"deep (>100m)"},{"year":97.68,"temp":-0.038,"series":"deep (>100m)"},{"year":97.81,"temp":-0.074,"series":"deep (>100m)"},{"year":97.94,"temp":-0.1,"series":"deep (>100m)"},
      {"year":98.07,"temp":-0.132,"series":"deep (>100m)"},{"year":98.2,"temp":-0.306,"series":"deep (>100m)"},{"year":98.32,"temp":-0.45,"series":"deep (>100m)"},{"year":98.42,"temp":-0.516,"series":"deep (>100m)"},{"year":98.55,"temp":-0.42,"series":"deep (>100m)"},{"year":98.68,"temp":-0.364,"series":"deep (>100m)"},{"year":98.81,"temp":-0.32,"series":"deep (>100m)"},{"year":98.94,"temp":-0.364,"series":"deep (>100m)"},
      {"year":99.07,"temp":-0.378,"series":"deep (>100m)"},{"year":99.21,"temp":-0.364,"series":"deep (>100m)"},{"year":99.34,"temp":-0.378,"series":"deep (>100m)"},{"year":99.42,"temp":-0.335,"series":"deep (>100m)"},{"year":99.55,"temp":-0.335,"series":"deep (>100m)"},{"year":99.68,"temp":-0.277,"series":"deep (>100m)"},{"year":99.89,"temp":-0.233,"series":"deep (>100m)"}
    ]
  },
  "vconcat": [
    {
      "width": 794,
      "height": 457,
      "title": {"text": "Vertical mean temperature at Kara Strait", "anchor": "middle", "frame": "group", "offset": 12},
      "data": {"name": "kara"},
      "layer": [
        {
          "mark": {"type": "line", "color": "black", "strokeWidth": 1, "clip": true},
          "encoding": {
            "x": {"field": "year", "type": "quantitative",
              "scale": {"domain": [79, 99.76], "nice": false, "zero": false},
              "axis": {"orient": "bottom", "values": [79,80,81,82,83,84,85,86,87,88,89,90,91,92,93,94,95,96,97,98,99], "format": "d", "tickSize": 6, "domainWidth": 4.5, "domainCap": "square", "labelPadding": 13,
                "title": "a)", "titleFontSize": 24, "titleAngle": 0, "titleAlign": "left", "titleBaseline": "middle", "titleX": -140.5, "titleY": -6}},
            "y": {"field": "temp", "type": "quantitative",
              "scale": {"domain": [-2, 3], "nice": false, "zero": false},
              "axis": {"values": [-2,-1.5,-1,-0.5,0,0.5,1,1.5,2,2.5,3], "format": "~g", "tickSize": 6, "domainWidth": 4.5, "domainCap": "square", "labelPadding": 17,
                "title": "[°C]", "titleFontSize": 24, "titleAngle": 0, "titleAlign": "right", "titleBaseline": "middle", "titleX": -63, "titleY": 0}}
          }
        },
        {
          "mark": {"type": "point", "opacity": 0},
          "encoding": {
            "x": {"field": "year", "type": "quantitative",
              "scale": {"domain": [79, 99.76], "nice": false, "zero": false},
              "axis": {"orient": "top", "values": [79,80,81,82,83,84,85,86,87,88,89,90,91,92,93,94,95,96,97,98,99], "labels": false, "tickSize": 6, "domainWidth": 4.5, "domainCap": "square", "title": null}}
          }
        }
      ],
      "resolve": {"axis": {"x": "independent"}}
    },
    {
      "width": 794,
      "height": 460,
      "title": {"text": ["Vertical mean and deep water temperature", "of AW north of Nowaya Semlya"], "anchor": "start", "frame": "group", "dx": 164.5, "lineHeight": 31, "offset": 17},
      "data": {"name": "nz"},
      "layer": [
        {
          "mark": {"type": "line", "color": "black", "clip": true},
          "encoding": {
            "x": {"field": "year", "type": "quantitative",
              "scale": {"domain": [79, 99.76], "nice": false, "zero": false},
              "axis": {"orient": "bottom", "values": [79,80,81,82,83,84,85,86,87,88,89,90,91,92,93,94,95,96,97,98,99], "format": "d", "tickSize": 7, "domainWidth": 1.5, "labelPadding": 12,
                "title": "Year", "titleFontSize": 22, "titlePadding": 9}},
            "y": {"field": "temp", "type": "quantitative",
              "scale": {"domain": [-1.4, 0.6], "nice": false, "zero": false},
              "axis": {"values": [-1.4,-1.2,-1,-0.8,-0.6,-0.4,-0.2,0,0.2,0.4,0.6], "format": "~g", "tickSize": 7, "domainWidth": 1.5, "labelPadding": 23,
                "title": "[°C]", "titleFontSize": 24, "titleAngle": 0, "titleAlign": "right", "titleBaseline": "middle", "titleX": -77, "titleY": 0}},
            "strokeDash": {"field": "series", "type": "nominal",
              "scale": {"domain": ["deep (>100m)", "vert. \u00a0mean"], "range": [[5, 3], [1, 0]]},
              "legend": {"title": null, "orient": "none", "legendX": 574.5, "legendY": 14, "symbolType": "M-3,0H3", "symbolSize": 529, "symbolStrokeColor": "black", "symbolStrokeWidth": 1.5,
                "labelFont": "Liberation Serif", "labelFontWeight": "bold", "labelFontSize": 24, "labelColor": "black", "labelOffset": 33, "rowPadding": 8, "padding": 0}},
            "strokeWidth": {"field": "series", "type": "nominal",
              "scale": {"domain": ["deep (>100m)", "vert. \u00a0mean"], "range": [2, 1]}, "legend": null}
          }
        },
        {
          "mark": {"type": "point", "opacity": 0},
          "encoding": {
            "x": {"field": "year", "type": "quantitative",
              "scale": {"domain": [79, 99.76], "nice": false, "zero": false},
              "axis": {"orient": "top", "values": [79,80,81,82,83,84,85,86,87,88,89,90,91,92,93,94,95,96,97,98,99], "labels": false, "tickSize": 7, "domainWidth": 1.5,
                "title": "b)", "titleFontSize": 24, "titleAngle": 0, "titleAlign": "left", "titleBaseline": "middle", "titleX": -140.5, "titleY": 462}}
          }
        }
      ],
      "resolve": {"axis": {"x": "independent"}}
    }
  ]
}
